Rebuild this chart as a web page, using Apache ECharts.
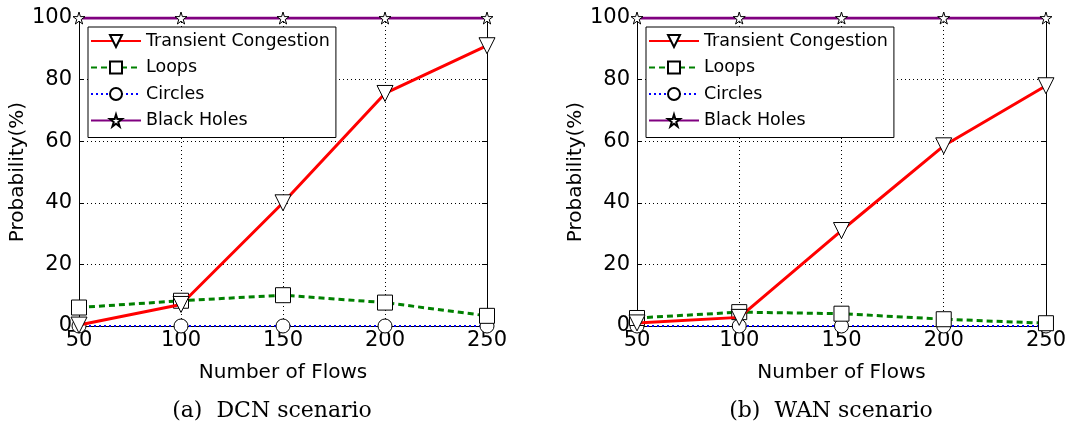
<!DOCTYPE html>
<html>
<head>
<meta charset="utf-8">
<script src="https://cdn.jsdelivr.net/npm/echarts@6/dist/echarts.min.js"></script>
<style>
  html, body { margin: 0; padding: 0; background: #fff; }
  #chart { width: 1069px; height: 428px; }
</style>
</head>
<body>
<div id="chart"></div>
<script>
// x values (number of flows)
var flows = [50, 100, 150, 200, 250];
var yTicks = [0, 20, 40, 60, 80, 100];

// (a) DCN scenario
var dcnCongestion = [0.3, 7, 40, 75.5, 91];
var dcnLoops = [6, 8.2, 10, 7.6, 3.3];
var dcnCircles = [0, 0, 0, 0, 0];
var dcnBlackHoles = [100, 100, 100, 100, 100];

// (b) WAN scenario
var wanCongestion = [1, 2.8, 31, 58.5, 78];
var wanLoops = [2.6, 4.5, 4, 2.2, 0.9];
var wanCircles = [0, 0, 0, 0, 0];
var wanBlackHoles = [100, 100, 100, 100, 100];

var captions = ['(a)  DCN scenario', '(b)  WAN scenario'];
var names = ['Transient Congestion', 'Loops', 'Circles', 'Black Holes'];

function pairs(ys) {
  return flows.map(function (x, i) { return [x, ys[i]]; });
}

var chart = echarts.init(document.getElementById('chart'));
var font = 'DejaVu Sans';

var grids = [
  { left: 79, top: 18, width: 408, height: 308 },
  { left: 637, top: 18, width: 409, height: 308 }
];

function xAxisFor(idx) {
  return {
    type: 'value', gridIndex: idx, min: 50, max: 250, interval: 50,
    name: 'Number of Flows', nameLocation: 'middle', nameGap: 37,
    nameTextStyle: { fontFamily: font, fontSize: 20, color: '#000' },
    axisLine: { show: true, lineStyle: { color: '#000', width: 1 } },
    axisTick: { show: true, inside: true, length: 5, lineStyle: { color: '#000' } },
    axisLabel: { fontFamily: font, fontSize: 21, color: '#000', margin: 4 },
    splitLine: { show: true, lineStyle: { color: '#000', type: [1, 3], width: 1 } }
  };
}
function xTopFor(idx) {
  return {
    type: 'value', gridIndex: idx, position: 'top', min: 50, max: 250, interval: 50,
    axisLine: { show: true, lineStyle: { color: '#000', width: 1 } },
    axisTick: { show: true, inside: true, length: 5, lineStyle: { color: '#000' } },
    axisLabel: { show: false }, splitLine: { show: false }
  };
}
function yAxisFor(idx) {
  return {
    type: 'value', gridIndex: idx, min: 0, max: 100, interval: 20,
    name: 'Probability(%)', nameLocation: 'middle', nameGap: 48,
    nameTextStyle: { fontFamily: font, fontSize: 20, color: '#000' },
    axisLine: { show: true, lineStyle: { color: '#000', width: 1 } },
    axisTick: { show: true, inside: true, length: 5, lineStyle: { color: '#000' } },
    axisLabel: { fontFamily: font, fontSize: 21, color: '#000', margin: 7,
      formatter: function (v) { return yTicks.indexOf(v) >= 0 ? String(v) : ''; } },
    splitLine: { show: true, lineStyle: { color: '#000', type: [1, 3], width: 1 } }
  };
}
function yRightFor(idx) {
  return {
    type: 'value', gridIndex: idx, position: 'right', min: 0, max: 100, interval: 20,
    axisLine: { show: true, lineStyle: { color: '#000', width: 1 } },
    axisTick: { show: true, inside: true, length: 5, lineStyle: { color: '#000' } },
    axisLabel: { show: false }, splitLine: { show: false }
  };
}

function seriesFor(idx, cong, loops, circles, holes) {
  var base = { type: 'line', xAxisIndex: idx * 2, yAxisIndex: idx * 2, clip: true, animation: false };
  var mk = { color: '#fff', borderColor: '#000', borderWidth: 1 };
  return [
    Object.assign({}, base, {
      name: names[0], data: pairs(cong), symbol: 'path://M0,0 L10,0 L5,10 Z', symbolSize: 16,
      lineStyle: { color: '#ff0000', width: 3 }, itemStyle: mk, z: 5
    }),
    Object.assign({}, base, {
      name: names[1], data: pairs(loops), symbol: 'rect', symbolSize: 15,
      lineStyle: { color: '#008000', width: 3, type: [6, 4] }, itemStyle: mk, z: 4
    }),
    Object.assign({}, base, {
      name: names[2], data: pairs(circles), symbol: 'circle', symbolSize: 14,
      lineStyle: { color: '#0000ff', width: 2, type: [2, 3] }, itemStyle: mk, z: 3
    }),
    Object.assign({}, base, {
      name: names[3], data: pairs(holes), symbol: 'path://M50,0 L61,35 L98,35 L68,57 L79,91 L50,70 L21,91 L32,57 L2,35 L39,35 Z', symbolSize: 12,
      lineStyle: { color: '#800080', width: 3 }, itemStyle: mk, z: 6
    })
  ];
}

function legendFor(left) {
  return {
    show: true, orient: 'vertical', left: left, top: 27,
    data: names.map(function (n) { return { name: n }; }),
    borderColor: '#000', borderWidth: 1, backgroundColor: '#fff', borderRadius: 0,
    padding: [5, 6, 8, 2], itemGap: 8.5, itemWidth: 50, itemHeight: 15,
    textStyle: { fontFamily: font, fontSize: 17.5, color: '#000' },
    selectedMode: false
  };
}

var capStyle = { fontFamily: 'DejaVu Serif', fontWeight: 'normal', fontSize: 22, color: '#000' };

var option = {
  backgroundColor: '#fff',
  animation: false,
  grid: grids,
  title: [
    { text: captions[0], left: 267, top: 395, textAlign: 'center', textStyle: capStyle },
    { text: captions[1], left: 826, top: 395, textAlign: 'center', textStyle: capStyle }
  ],
  legend: [legendFor(88), legendFor(646)],
  xAxis: [xAxisFor(0), xTopFor(0), xAxisFor(1), xTopFor(1)],
  yAxis: [yAxisFor(0), yRightFor(0), yAxisFor(1), yRightFor(1)],
  series: seriesFor(0, dcnCongestion, dcnLoops, dcnCircles, dcnBlackHoles)
    .concat(seriesFor(1, wanCongestion, wanLoops, wanCircles, wanBlackHoles))
};

chart.setOption(option);
</script>
</body>
</html>
